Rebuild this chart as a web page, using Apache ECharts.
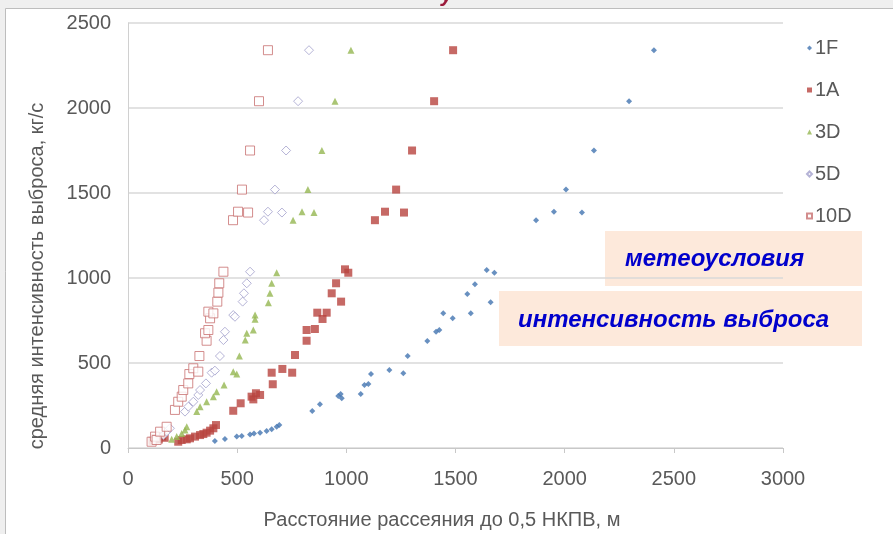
<!DOCTYPE html>
<html>
<head>
<meta charset="utf-8">
<script src="https://cdn.jsdelivr.net/npm/echarts@6/dist/echarts.min.js"></script>
<style>
  html, body { margin: 0; padding: 0; background: #efefef; }
  #chart { width: 893px; height: 534px; }
</style>
</head>
<body>
<div id="chart"></div>
<script>
// Dispersion distance to 0.5 LFL (m) vs mean release rate (kg/s), by weather class
const seriesNames = ['1F', '1A', '3D', '5D', '10D'];

const pts1F = [
  [398, 41], [444, 53], [498, 67], [521, 71], [559, 80], [577, 86], [605, 90], [635, 100],
  [658, 110], [681, 125], [693, 135],
  [844, 218], [879, 257], [963, 306], [979, 292], [974, 318], [1066, 318], [1083, 371],
  [1101, 376], [1113, 435], [1197, 459], [1261, 439], [1281, 541], [1371, 629], [1411, 684],
  [1426, 694], [1444, 792], [1487, 763], [1570, 792], [1554, 906], [1589, 963], [1643, 1047],
  [1678, 1031], [1661, 857],
  [1869, 1340], [1951, 1390], [2079, 1385], [2006, 1520], [2134, 1750], [2295, 2040], [2409, 2340]
];

const pts1A = [
  [112, 42], [126, 58], [141, 50], [156, 68], [168, 60],
  [230, 37], [246, 47], [269, 51], [284, 57], [307, 67], [330, 76], [345, 82], [360, 90],
  [376, 102], [391, 116], [403, 135],
  [482, 219], [516, 263], [566, 302], [574, 286], [586, 322], [605, 312], [658, 443],
  [663, 375], [707, 465], [752, 443], [765, 547], [818, 631], [818, 694], [856, 700],
  [867, 796], [891, 759], [910, 796], [933, 910], [976, 861], [953, 969], [994, 1051], [1009, 1031],
  [1131, 1340], [1177, 1390], [1264, 1385], [1228, 1520], [1301, 1750], [1402, 2040], [1489, 2340]
];

const pts3D = [
  [200, 51], [223, 67], [246, 86], [261, 106], [269, 125],
  [315, 214], [330, 243], [360, 272], [391, 302], [406, 331], [440, 371], [482, 449],
  [498, 435], [510, 541], [537, 635], [544, 675], [574, 694], [582, 757], [582, 782],
  [643, 855], [650, 910], [658, 969], [681, 1031],
  [756, 1340], [797, 1390], [852, 1385], [824, 1520], [888, 1750], [948, 2040], [1021, 2340]
];

const pts5D = [
  [162, 76], [177, 96], [192, 116],
  [261, 214], [276, 243], [299, 272], [322, 312], [330, 341], [357, 380], [383, 443],
  [398, 455], [421, 541], [437, 635], [444, 684], [482, 782], [490, 772], [525, 861],
  [531, 910], [544, 969], [559, 1037],
  [623, 1340], [641, 1390], [705, 1385], [673, 1520], [724, 1750], [779, 2040], [829, 2340]
];

const pts10D = [
  [108, 37], [124, 67], [131, 47], [147, 96], [177, 125],
  [215, 224], [230, 272], [246, 302], [253, 341], [276, 380], [281, 435], [299, 469],
  [322, 449], [327, 541], [360, 631], [353, 675], [368, 694], [376, 763], [368, 802],
  [391, 792], [409, 861], [414, 914], [418, 969], [437, 1037],
  [481, 1340], [504, 1390], [550, 1385], [522, 1520], [559, 1750], [600, 2040], [641, 2340]
];

const xAxisTitle = 'Расстояние рассеяния до 0,5 НКПВ, м';
const yAxisTitle = 'средняя интенсивность выброса, кг/с';
const noteWeather = 'метеоусловия';
const noteRate = 'интенсивность выброса';

const FONT = '"Liberation Sans", Arial, sans-serif';
const TXT = '#595959';

const chart = echarts.init(document.getElementById('chart'), null, { renderer: 'canvas' });

const styles = {
  '1F':  { symbol: 'diamond',  symbolSize: 6, itemStyle: { color: '#4274b0' } },
  '1A':  { symbol: 'rect',     symbolSize: 8, itemStyle: { color: '#b8433f' } },
  '3D':  { symbol: 'triangle', symbolSize: 7, itemStyle: { color: '#95b651' } },
  '5D':  { symbol: 'diamond',  symbolSize: 9, itemStyle: { color: '#ffffff', borderColor: '#a3a0cc', borderWidth: 1 } },
  '10D': { symbol: 'rect',     symbolSize: 9, itemStyle: { color: '#ffffff', borderColor: '#c87070', borderWidth: 1 } }
};
const dataByName = { '1F': pts1F, '1A': pts1A, '3D': pts3D, '5D': pts5D, '10D': pts10D };

const option = {
  backgroundColor: '#efefef',
  animation: false,
  textStyle: { fontFamily: FONT },
  grid: { left: 128, right: 110, top: 23, bottom: 86, containLabel: false },
  legend: {
    orient: 'vertical',
    left: 806,
    top: 38,
    padding: 0,
    itemWidth: 5,
    itemHeight: 5,
    itemGap: 22,
    textStyle: { fontFamily: FONT, fontSize: 20, color: TXT, lineHeight: 20, padding: [0, 0, 0, -2] },
    data: seriesNames
  },
  xAxis: {
    type: 'value',
    min: 0, max: 3000, interval: 500,
    axisLine: { show: true, lineStyle: { color: '#c8c8c8' } },
    axisTick: { show: true, length: 5, lineStyle: { color: '#c8c8c8' } },
    axisLabel: { fontFamily: FONT, fontSize: 20, color: TXT, margin: 21, formatter: v => String(v) },
    splitLine: { show: false }
  },
  yAxis: {
    type: 'value',
    min: 0, max: 2500, interval: 500,
    axisLine: { show: true, lineStyle: { color: '#d0d0d0' } },
    axisTick: { show: false },
    axisLabel: { fontFamily: FONT, fontSize: 20, color: TXT, margin: 17, formatter: v => String(v) },
    splitLine: { show: true, lineStyle: { color: '#d9d9d9', width: 1.5 } }
  },
  series: seriesNames.map(n => Object.assign({
    name: n,
    type: 'scatter',
    data: dataByName[n],
    z: 3
  }, styles[n])),
  graphic: [
    {
      type: 'rect', z: 0, silent: true,
      shape: { x: 5.5, y: 8.5, width: 900, height: 540 },
      style: { fill: '#ffffff', stroke: '#bdbdbd', lineWidth: 1 }
    },
    {
      type: 'text', z: 10, silent: true, left: 441, top: -16,
      style: { text: 'у', fill: '#9b1b3b', font: 'bold italic 22px ' + FONT }
    },
    {
      type: 'text', z: 10, silent: true, x: 442, y: 520,
      style: { text: xAxisTitle, fill: TXT, font: '20px ' + FONT, textAlign: 'center', textVerticalAlign: 'middle' }
    },
    {
      type: 'text', z: 10, silent: true, x: 37, y: 276, rotation: Math.PI / 2,
      style: { text: yAxisTitle, fill: TXT, font: '20px ' + FONT, textAlign: 'center', textVerticalAlign: 'middle' }
    },
    {
      type: 'group', z: 20,
      children: [
        { type: 'rect', shape: { x: 605, y: 231, width: 257, height: 55 }, style: { fill: '#fde9db' } },
        { type: 'text', x: 625, y: 259, style: { text: noteWeather, fill: '#0000cc', font: 'bold italic 24px ' + FONT, textVerticalAlign: 'middle' } },
        { type: 'rect', shape: { x: 499, y: 291, width: 363, height: 55 }, style: { fill: '#fde9db' } },
        { type: 'text', x: 518, y: 320, style: { text: noteRate, fill: '#0000cc', font: 'bold italic 24px ' + FONT, textVerticalAlign: 'middle' } }
      ]
    }
  ]
};

chart.setOption(option);
</script>
</body>
</html>
